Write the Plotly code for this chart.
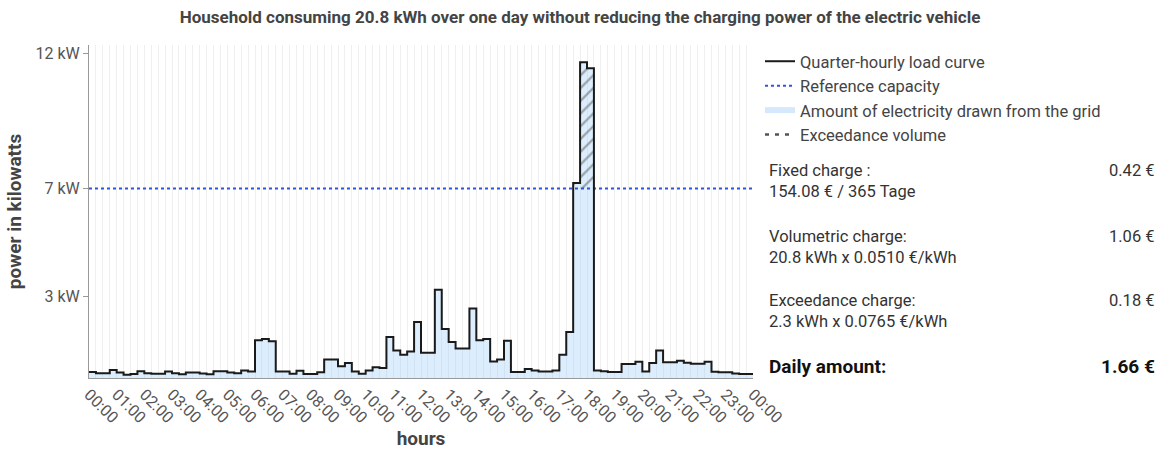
import plotly.graph_objects as go

# ---------------- data ----------------
load_kw = [
    0.22, 0.18, 0.18, 0.30, 0.20, 0.12, 0.15, 0.25, 0.18, 0.16, 0.16, 0.24,
    0.18, 0.14, 0.20, 0.20, 0.17, 0.14, 0.25, 0.25, 0.20, 0.18, 0.28, 0.24,
    1.39, 1.44, 1.36, 0.24, 0.24, 0.16, 0.27, 0.15, 0.15, 0.21, 0.68, 0.68,
    0.43, 0.55, 0.24, 0.16, 0.28, 0.40, 0.37, 1.51, 1.02, 0.86, 0.98, 2.07,
    0.93, 0.93, 3.26, 1.81, 1.33, 1.09, 1.09, 2.57, 1.39, 1.44, 0.61, 0.68,
    1.38, 0.22, 0.22, 0.33, 0.28, 0.24, 0.24, 0.28, 0.86, 1.70, 7.20, 11.66,
    11.44, 0.28, 0.25, 0.22, 0.22, 0.52, 0.52, 0.60, 0.24, 0.55, 1.02, 0.58,
    0.58, 0.64, 0.56, 0.53, 0.53, 0.60, 0.23, 0.21, 0.21, 0.17, 0.15, 0.15,
]
reference_capacity_kw = 7
hour_labels = [f"{h % 24:02d}:00" for h in range(25)]
y_tick_values = [3, 7, 12]
y_tick_labels = ["3 kW", "7 kW", "12 kW"]

legend_names = [
    "Quarter-hourly load curve",
    "Reference capacity",
    "Amount of electricity drawn from the grid",
    "Exceedance volume",
]
charge_labels = ["Fixed charge :", "Volumetric charge:", "Exceedance charge:"]
charge_details = ["154.08 € / 365 Tage", "20.8 kWh x 0.0510 €/kWh", "2.3 kWh x 0.0765 €/kWh"]
charge_values = ["0.42 €", "1.06 €", "0.18 €"]
total_label = "Daily amount:"
total_value = "1.66 €"

title_text = ("Household consuming 20.8 kWh over one day without reducing "
              "the charging power of the electric vehicle")

# ---------------- derived ----------------
n = len(load_kw)
x_h = [i / 4 for i in range(n)] + [n / 4]
y_step = load_kw + [load_kw[-1]]

exc_idx = [i for i, v in enumerate(load_kw) if v > reference_capacity_kw]
x_exc = [i / 4 for i in exc_idx] + [(exc_idx[-1] + 1) / 4]
y_exc = [load_kw[i] for i in exc_idx] + [load_kw[exc_idx[-1]]]
y_base = [reference_capacity_kw] * len(x_exc)

FONT = "Roboto, 'Open Sans', sans-serif"
W, H = 1160, 453
L, R, T, B = 89, 407, 45, 75
PW, PH = W - L - R, H - T - B


def px(x):
    return (x - L) / PW


def py(y):
    return (H - B - y) / PH


fig = go.Figure()

# fill of drawn energy
fig.add_trace(go.Scatter(
    x=x_h, y=y_step, mode="lines", line=dict(shape="hv", width=0),
    fill="tozeroy", fillcolor="rgba(140,195,250,0.30)",
    showlegend=False, hoverinfo="skip"))

# exceedance hatch
fig.add_trace(go.Scatter(
    x=x_exc, y=y_base, mode="lines", line=dict(shape="hv", width=0),
    showlegend=False, hoverinfo="skip"))
fig.add_trace(go.Scatter(
    x=x_exc, y=y_exc, mode="lines", line=dict(shape="hv", width=0),
    fill="tonexty", fillcolor="rgba(0,0,0,0)",
    fillpattern=dict(shape="/", fgcolor="#555555", bgcolor="rgba(0,0,0,0)",
                     size=9, solidity=0.25),
    showlegend=False, hoverinfo="skip"))

# reference capacity
fig.add_trace(go.Scatter(
    x=[0, 24], y=[reference_capacity_kw] * 2, mode="lines",
    line=dict(color="#2f55e0", width=2, dash="dot"),
    showlegend=False, hoverinfo="skip"))

# step load curve
fig.add_trace(go.Scatter(
    x=x_h, y=y_step, mode="lines",
    line=dict(shape="hv", color="#1a1a1a", width=2),
    showlegend=False))

# legend-only entries
fig.add_trace(go.Scatter(x=[None], y=[None], mode="lines", name=legend_names[0],
                         line=dict(color="#1a1a1a", width=2)))
fig.add_trace(go.Scatter(x=[None], y=[None], mode="lines", name=legend_names[1],
                         line=dict(color="#2f55e0", width=2, dash="dot")))
fig.add_trace(go.Scatter(x=[None], y=[None], mode="lines", name=legend_names[2],
                         line=dict(color="#d6e8fb", width=6)))
fig.add_trace(go.Scatter(x=[None], y=[None], mode="lines", name=legend_names[3],
                         line=dict(color="#555555", width=2.5, dash="4px,6px")))

# right-hand cost annotations
TXT = 16.5
line_y = [(170, 191), (236, 257), (300, 321)]
for (y1, y2), lab, det, val in zip(line_y, charge_labels, charge_details, charge_values):
    fig.add_annotation(x=px(767), y=py(y1), xref="paper", yref="paper", text=lab,
                       showarrow=False, xanchor="left", yanchor="middle",
                       font=dict(size=TXT, color="#333333", family=FONT))
    fig.add_annotation(x=px(767), y=py(y2), xref="paper", yref="paper", text=det,
                       showarrow=False, xanchor="left", yanchor="middle",
                       font=dict(size=TXT, color="#333333", family=FONT))
    fig.add_annotation(x=px(1157), y=py(y1), xref="paper", yref="paper", text=val,
                       showarrow=False, xanchor="right", yanchor="middle",
                       font=dict(size=TXT, color="#333333", family=FONT))
fig.add_annotation(x=px(767), y=py(366), xref="paper", yref="paper",
                   text=f"<b>{total_label}</b>", showarrow=False,
                   xanchor="left", yanchor="middle",
                   font=dict(size=19, color="#111111", family=FONT))
fig.add_annotation(x=px(1157), y=py(366), xref="paper", yref="paper",
                   text=f"<b>{total_value}</b>", showarrow=False,
                   xanchor="right", yanchor="middle",
                   font=dict(size=19, color="#111111", family=FONT))

fig.update_layout(
    width=W, height=H,
    margin=dict(l=L, r=R, t=T, b=B, autoexpand=False),
    paper_bgcolor="white", plot_bgcolor="white",
    font=dict(family=FONT, color="#444444"),
    title=dict(text=f"<b>{title_text}</b>", x=0.5, xref="container",
               y=1 - 17 / H, yref="container", yanchor="middle",
               font=dict(size=17, color="#444444", family=FONT)),
    legend=dict(x=px(760), y=py(44), xanchor="left", yanchor="top",
                traceorder="normal",
                font=dict(size=16.5, color="#444444", family=FONT),
                bgcolor="rgba(0,0,0,0)", tracegroupgap=0, itemwidth=30),
    xaxis=dict(range=[0, 24], tickmode="array", automargin=False,
               tickvals=list(range(25)), ticktext=hour_labels,
               tickangle=45, tickfont=dict(size=16, color="#555555"),
               showgrid=True, gridcolor="#efefef", gridwidth=1,
               minor=dict(dtick=0.25, showgrid=True, gridcolor="#efefef"),
               showline=True, linecolor="#999999", linewidth=1,
               ticks="", zeroline=False,
               title=dict(text="<b>hours</b>", font=dict(size=19, color="#444444"),
                          standoff=4)),
    yaxis=dict(range=[0, 12.3], tickmode="array", automargin=False,
               tickvals=y_tick_values, ticktext=y_tick_labels,
               tickfont=dict(size=16, color="#555555"),
               showgrid=False, zeroline=False,
               showline=True, linecolor="#999999", linewidth=1,
               ticks="outside", ticklen=5, tickcolor="#999999",
               title=dict(text="<b>power in kilowatts</b>",
                          font=dict(size=19, color="#444444"), standoff=8)),
)

fig.write_html("out.html", config={"displayModeBar": False},
               post_script="document.body.style.margin='0px';")
